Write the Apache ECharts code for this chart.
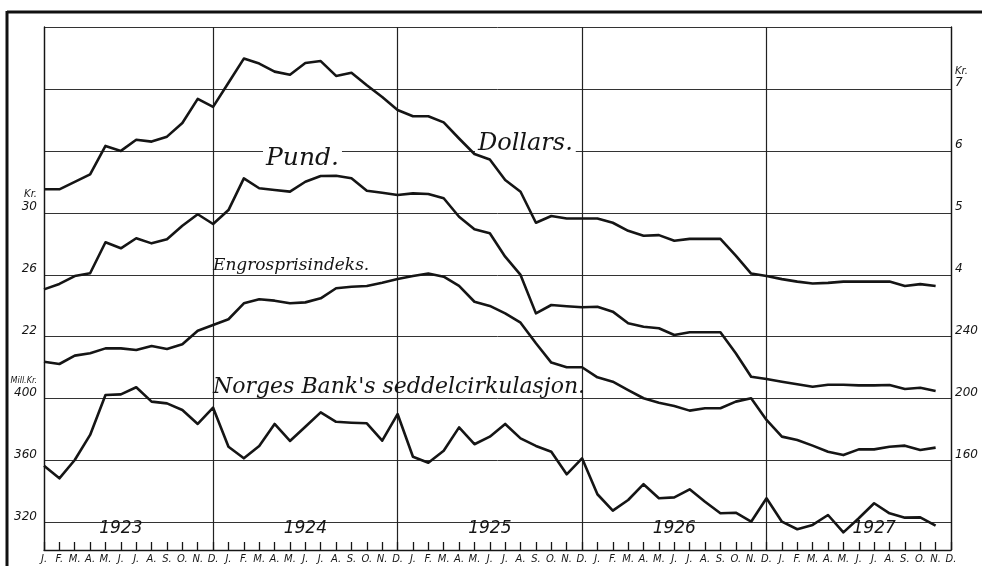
<!DOCTYPE html>
<html>
<head>
<meta charset="utf-8">
<title>Valuta, engrosprisindeks og seddelcirkulasjon 1923–1927</title>
<script src="https://cdn.jsdelivr.net/npm/echarts/dist/echarts.min.js"></script>
<style>
  html, body { margin: 0; padding: 0; background: #fff; }
  #chart { width: 982px; height: 566px; }
</style>
</head>
<body>
<div id="chart"></div>
<script>
// months and years on the time axis (Jan 1923 - Dec 1927)
const months = ['J.', 'F.', 'M.', 'A.', 'M.', 'J.', 'J.', 'A.', 'S.', 'O.', 'N.', 'D.'];
const years = ['1923', '1924', '1925', '1926', '1927'];
const categories = years.flatMap(() => months);

// monthly values, Jan 1923 - Nov 1927
const dollars = [5.38, 5.38, 5.50, 5.62, 6.08, 6.00, 6.18, 6.15, 6.23, 6.45, 6.84, 6.71,
  7.10, 7.49, 7.41, 7.28, 7.23, 7.42, 7.45, 7.21, 7.26, 7.06, 6.87, 6.66,
  6.56, 6.56, 6.46, 6.20, 5.95, 5.86, 5.53, 5.34, 4.84, 4.95, 4.91, 4.91,
  4.91, 4.84, 4.71, 4.63, 4.64, 4.55, 4.58, 4.58, 4.58, 4.31, 4.02, 3.98,
  3.93, 3.89, 3.86, 3.87, 3.89, 3.89, 3.89, 3.89, 3.82, 3.85, 3.82];
const pund = [25.06, 25.41, 25.92, 26.10, 28.10, 27.71, 28.36, 28.03, 28.29, 29.17, 29.91, 29.28,
  30.18, 32.23, 31.59, 31.48, 31.37, 32.01, 32.38, 32.40, 32.23, 31.43, 31.30, 31.15,
  31.26, 31.22, 30.94, 29.75, 28.94, 28.68, 27.17, 25.99, 23.51, 24.05, 23.97, 23.90,
  23.94, 23.62, 22.87, 22.65, 22.55, 22.11, 22.29, 22.29, 22.29, 20.93, 19.42, 19.27,
  19.09, 18.93, 18.77, 18.90, 18.90, 18.86, 18.86, 18.88, 18.63, 18.71, 18.50];
const engros = [223.9, 222.4, 227.8, 229.3, 232.5, 232.5, 231.4, 234.0, 232.1, 235.1, 243.9, 247.6,
  251.3, 261.6, 264.2, 263.3, 261.6, 262.2, 264.8, 271.3, 272.3, 272.8, 274.9, 277.3,
  279.2, 280.8, 278.8, 272.8, 262.6, 259.9, 255.1, 249.1, 235.8, 223.3, 220.3, 220.3,
  213.8, 211.0, 205.6, 200.3, 197.4, 195.3, 192.3, 193.8, 193.8, 198.1, 200.3, 186.3,
  175.5, 173.3, 169.7, 165.8, 163.6, 167.3, 167.3, 169.0, 169.7, 166.9, 168.4];
const seddel = [356.7, 348.6, 360.4, 376.6, 402.4, 402.8, 407.4, 398.1, 397.0, 392.7, 383.7, 394.2,
  369.0, 361.5, 369.5, 383.7, 372.7, 381.9, 391.2, 385.1, 384.5, 384.1, 372.9, 390.1,
  362.5, 358.7, 366.4, 381.5, 370.6, 375.5, 383.7, 374.4, 369.5, 365.8, 351.2, 361.5,
  338.3, 327.7, 334.6, 344.8, 335.7, 336.3, 341.5, 333.5, 326.0, 326.4, 320.6, 335.7,
  320.6, 315.7, 318.5, 324.9, 313.7, 322.8, 332.5, 326.0, 323.2, 323.4, 318.0];

// tick labels of the four scales
const pundTicks = [22, 26, 30];
const seddelTicks = [320, 360, 400];
const dollarTicks = [4, 5, 6, 7];
const engrosTicks = [160, 200, 240];

const INK = '#151515';
const GRID = 8.4423; // plot height measured in gridline steps
const numFont = { fontFamily: 'DejaVu Sans', fontStyle: 'italic', fontSize: 12, color: INK };

// one scale per series; every scale has the same gridline step
function scale(top, step, side, ticks, unit) {
  return {
    type: 'value', position: side,
    min: top - step * GRID, max: top,
    axisLine: { show: false }, axisTick: { show: false }, splitLine: { show: false },
    axisLabel: {
      customValues: ticks,
      margin: side === 'left' ? 7 : 4,
      verticalAlign: 'bottom',
      lineHeight: 12,
      formatter: v => (v === ticks[ticks.length - 1] ? '{u|' + unit + '}\n' : '') + '{n|' + v + '}',
      rich: {
        n: numFont,
        u: { fontFamily: 'DejaVu Sans', fontStyle: 'italic', fontSize: unit.length > 3 ? 8 : 10, color: INK, lineHeight: 12 }
      }
    }
  };
}

function frameAxis(side, lines) {
  return {
    type: 'value', position: side, inverse: true,
    min: 0, max: GRID, interval: 1,
    axisLine: { show: true, lineStyle: { color: INK, width: 1.3 } },
    axisTick: { show: false }, axisLabel: { show: false },
    splitLine: { show: lines, lineStyle: { color: '#333', width: 1 } }
  };
}

const lineSeries = (data, axis) => ({
  type: 'line', data, yAxisIndex: axis, symbol: 'none', silent: true,
  lineStyle: { color: INK, width: 2.6, join: 'round' }
});

const chart = echarts.init(document.getElementById('chart'));
chart.setOption({
  backgroundColor: '#fff',
  animation: false,
  grid: { left: 44, right: 31, top: 27, bottom: 16 },
  xAxis: {
    type: 'category', data: categories, boundaryGap: false,
    axisLine: { onZero: false, lineStyle: { color: INK, width: 1.3 } },
    axisTick: { inside: true, length: 8, interval: 0, lineStyle: { color: INK, width: 1.3 } },
    axisLabel: { interval: 0, margin: 4, fontFamily: 'DejaVu Sans', fontStyle: 'italic', fontSize: 10, color: INK },
    splitLine: { show: true, interval: i => i === 0 || i % 12 === 11, lineStyle: { color: '#222', width: 1.2 } }
  },
  yAxis: [
    frameAxis('left', true),
    frameAxis('right', false),
    scale(8, 1, 'right', dollarTicks, 'Kr.'),
    scale(42, 4, 'left', pundTicks, 'Kr.'),
    scale(440, 40, 'right', engrosTicks, ''),
    scale(640, 40, 'left', seddelTicks, 'Mill.Kr.')
  ],
  series: [
    lineSeries(dollars, 2),
    lineSeries(pund, 3),
    lineSeries(engros, 4),
    lineSeries(seddel, 5)
  ]
});

// series names, written on the chart like the original
const label = (text, x, y, size, mask) => ({
  type: 'text', z: 1, silent: true,
  style: {
    text, x, y, fill: INK, align: 'left', verticalAlign: 'middle',
    fontFamily: 'DejaVu Serif', fontStyle: 'italic', fontSize: size,
    backgroundColor: mask ? '#fff' : null, padding: mask ? [2, 3] : 0
  }
});
const yearPos = [5, 17, 29, 41, 54];
const yearY = chart.convertToPixel({ yAxisIndex: 5 }, 310) - 10;
chart.setOption({
  graphic: [
    label('Dollars.', 475, 144, 24, true),
    label('Pund.', 263, 158, 25, true),
    label('Engrosprisindeks.', 213, 266, 17, false),
    label('Norges Bank\'s seddelcirkulasjon.', 213, 387, 22, false),
    ...years.map((y, k) => ({
      type: 'text', z: 1, silent: true,
      style: {
        text: y, x: chart.convertToPixel({ xAxisIndex: 0 }, yearPos[k]), y: yearY,
        align: 'center', verticalAlign: 'middle', fill: INK,
        fontFamily: 'DejaVu Sans', fontStyle: 'italic', fontSize: 17, fontWeight: 300
      }
    })),
    { type: 'line', z: 10, silent: true, shape: { x1: 7, y1: 12, x2: 982, y2: 12 }, style: { stroke: '#111', lineWidth: 3 } },
    { type: 'line', z: 10, silent: true, shape: { x1: 7, y1: 11, x2: 7, y2: 566 }, style: { stroke: '#111', lineWidth: 3 } }
  ]
});
</script>
</body>
</html>
